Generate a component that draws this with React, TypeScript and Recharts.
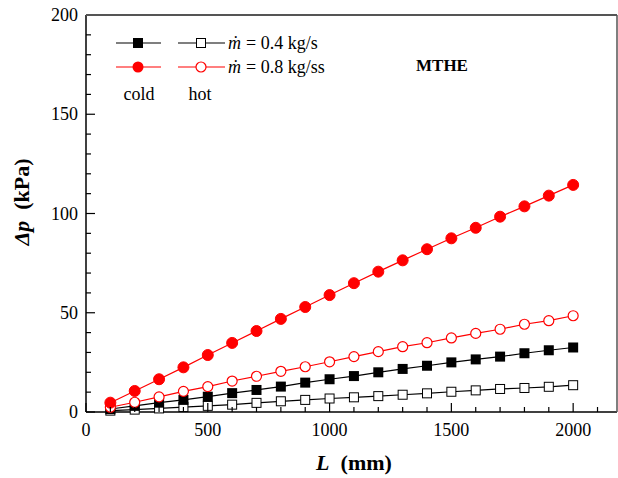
import React from "react";
import { LineChart, Line, XAxis, YAxis } from "recharts";

// L (mm)
const lengths = [100, 200, 300, 400, 500, 600, 700, 800, 900, 1000, 1100, 1200, 1300, 1400, 1500, 1600, 1700, 1800, 1900, 2000];
// Δp (kPa), m = 0.8 kg/s
const coldHigh = [4.7, 10.6, 16.5, 22.5, 28.7, 34.8, 40.8, 46.9, 52.9, 58.9, 64.9, 70.7, 76.4, 82.0, 87.5, 92.8, 98.4, 103.6, 109.0, 114.4];
const hotHigh = [2.4, 4.9, 7.6, 10.4, 12.8, 15.6, 18.0, 20.5, 22.8, 25.3, 27.9, 30.4, 32.9, 34.9, 37.3, 39.6, 41.7, 44.2, 46.0, 48.5];
// Δp (kPa), m = 0.4 kg/s
const coldLow = [1.5, 3.1, 4.7, 6.1, 7.7, 9.5, 11.1, 12.8, 14.8, 16.5, 18.1, 20.0, 21.7, 23.3, 25.0, 26.5, 27.9, 29.6, 31.1, 32.5];
const hotLow = [0.7, 1.2, 1.8, 2.5, 3.1, 3.7, 4.6, 5.4, 6.1, 6.8, 7.4, 8.0, 8.7, 9.4, 10.2, 10.9, 11.6, 12.1, 12.7, 13.5];

const xTicks = [0, 100, 200, 300, 400, 500, 600, 700, 800, 900, 1000, 1100, 1200, 1300, 1400, 1500, 1600, 1700, 1800, 1900, 2000, 2100];
const yTicks = [0, 10, 20, 30, 40, 50, 60, 70, 80, 90, 100, 110, 120, 130, 140, 150, 160, 170, 180, 190, 200];
const xMax = 2180;
const yMax = 200;

const data = lengths.map((L, i) => ({
  L,
  coldHigh: coldHigh[i],
  hotHigh: hotHigh[i],
  coldLow: coldLow[i],
  hotLow: hotLow[i],
}));

const FONT = "'Liberation Serif', 'Times New Roman', serif";
const RED = "#ff0000";

const YTick = (props: any) => {
  const { x, y, payload } = props;
  const major = payload.value % 50 === 0;
  return (
    <g>
      <line x1={x} x2={x + (major ? 9 : 5)} y1={y} y2={y} stroke="#000" strokeWidth={1.2} />
      {major && (
        <text x={x - 8} y={y + 6} textAnchor="end" fontSize={18} fontFamily={FONT} fill="#000">
          {payload.value}
        </text>
      )}
    </g>
  );
};

const XTick = (props: any) => {
  const { x, y, payload } = props;
  const major = payload.value % 500 === 0;
  return (
    <g>
      <line x1={x} x2={x} y1={y} y2={y - (major ? 9 : 5)} stroke="#000" strokeWidth={1.2} />
      {major && (
        <text x={x} y={y + 24} textAnchor="middle" fontSize={18} fontFamily={FONT} fill="#000">
          {payload.value}
        </text>
      )}
    </g>
  );
};

const FilledCircle = (p: any) => (
  <circle key={p.key} cx={p.cx} cy={p.cy} r={5.5} fill={RED} stroke={RED} strokeWidth={1} />
);
const HollowCircle = (p: any) => (
  <circle key={p.key} cx={p.cx} cy={p.cy} r={5} fill="#fff" stroke={RED} strokeWidth={1.2} />
);
const FilledSquare = (p: any) => (
  <rect key={p.key} x={p.cx - 5} y={p.cy - 5} width={10} height={10} fill="#000" />
);
const HollowSquare = (p: any) => (
  <rect key={p.key} x={p.cx - 4.5} y={p.cy - 4.5} width={9} height={9} fill="#fff" stroke="#000" strokeWidth={1} />
);

function Overlay() {
  const mdot = (x: number, y: number) => (
    <text x={x} y={y} fontSize={18} fontFamily={FONT} fill="#000">
      <tspan fontStyle="italic">ṁ</tspan>
    </text>
  );
  return (
    <svg
      width={618}
      height={478}
      style={{ position: "absolute", left: 0, top: 0, pointerEvents: "none" }}
    >
      {/* frame: top and right edges of the plot box */}
      <line x1={86} x2={617} y1={15} y2={15} stroke="#555" strokeWidth={2} />
      <line x1={617} x2={617} y1={15} y2={412} stroke="#555" strokeWidth={1.5} />
      {/* legend row 1 */}
      <line x1={116} x2={161} y1={43} y2={43} stroke="#000" strokeWidth={1.2} />
      <rect x={133} y={38} width={10} height={10} fill="#000" />
      <line x1={178} x2={225} y1={43} y2={43} stroke="#000" strokeWidth={1.2} />
      <rect x={196.5} y={38.5} width={9} height={9} fill="#fff" stroke="#000" />
      {mdot(228, 49)}
      <text x={246} y={49} fontSize={18} fontFamily={FONT} fill="#000">
        = 0.4 kg/s
      </text>
      {/* legend row 2 */}
      <line x1={116} x2={161} y1={67} y2={67} stroke={RED} strokeWidth={1.2} />
      <circle cx={138} cy={67} r={5.5} fill={RED} />
      <line x1={178} x2={225} y1={67} y2={67} stroke={RED} strokeWidth={1.2} />
      <circle cx={201} cy={67} r={5} fill="#fff" stroke={RED} strokeWidth={1.2} />
      {mdot(228, 73)}
      <text x={246} y={73} fontSize={18} fontFamily={FONT} fill="#000">
        = 0.8 kg/ss
      </text>
      <text x={139} y={100} textAnchor="middle" fontSize={18} fontFamily={FONT} fill="#000">
        cold
      </text>
      <text x={200} y={100} textAnchor="middle" fontSize={18} fontFamily={FONT} fill="#000">
        hot
      </text>
      <text x={442} y={71} textAnchor="middle" fontSize={17} fontWeight="bold" fontFamily={FONT} fill="#000">
        MTHE
      </text>
      {/* axis titles */}
      <text x={354} y={470} textAnchor="middle" fontSize={22} fontWeight="bold" fontFamily={FONT} fill="#000">
        <tspan fontStyle="italic">L</tspan>
        <tspan>{"\u00a0 (mm)"}</tspan>
      </text>
      <text
        x={0}
        y={0}
        transform="translate(29 202) rotate(-90)"
        textAnchor="middle"
        fontSize={22}
        fontWeight="bold"
        fontFamily={FONT}
        fill="#000"
      >
        <tspan fontStyle="italic">Δp</tspan>
        <tspan>{"\u00a0 (kPa)"}</tspan>
      </text>
    </svg>
  );
}

export default function App() {
  return (
    <div style={{ position: "absolute", left: 0, top: 0, width: 618, height: 478, background: "#fff" }}>
      <LineChart width={618} height={478} data={data} margin={{ top: 15, right: 1, bottom: 0, left: 0 }}>
        <XAxis
          dataKey="L"
          type="number"
          domain={[0, xMax]}
          ticks={xTicks}
          interval={0}
          allowDataOverflow
          height={66}
          tickSize={0}
          tickMargin={0}
          tickLine={false}
          axisLine={{ stroke: "#000", strokeWidth: 1.5 }}
          tick={<XTick />}
        />
        <YAxis
          type="number"
          domain={[0, yMax]}
          ticks={yTicks}
          interval={0}
          width={86}
          tickSize={0}
          tickMargin={0}
          tickLine={false}
          axisLine={{ stroke: "#000", strokeWidth: 1.5 }}
          tick={<YTick />}
        />
        <Line dataKey="hotLow" stroke="#000" strokeWidth={1.2} dot={HollowSquare} isAnimationActive={false} />
        <Line dataKey="coldLow" stroke="#000" strokeWidth={1.2} dot={FilledSquare} isAnimationActive={false} />
        <Line dataKey="hotHigh" stroke={RED} strokeWidth={1.2} dot={HollowCircle} isAnimationActive={false} />
        <Line dataKey="coldHigh" stroke={RED} strokeWidth={1.2} dot={FilledCircle} isAnimationActive={false} />
      </LineChart>
      <Overlay />
    </div>
  );
}
